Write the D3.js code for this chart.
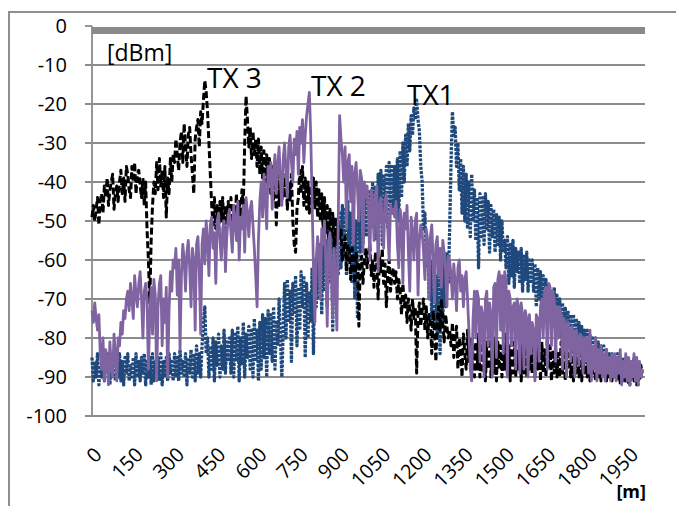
<!DOCTYPE html>
<html>
<head>
<meta charset="utf-8">
<script src="https://cdn.jsdelivr.net/npm/d3@7"></script>
<style>
  body { margin: 0; background: #fff; }
  svg text { font-family: "Open Sans", "Liberation Sans", sans-serif; fill: #000; }
</style>
</head>
<body>
<div id="chart"></div>
<script>
// received power along the track, one value every 5 m from 0 to 2000 m
var step = 5;

var tx1 = [
  -85,-91,-86,-90,-84,-92,-87,-90,-85,-91,-86,-89,-84,-92,-86,-90,-85,-91,-87,-90,
  -84,-91,-86,-92,-85,-89,-84,-91,-87,-90,-85,-92,-84,-90,-86,-91,-85,-89,-84,-92,
  -86,-90,-85,-92,-84,-91,-86,-89,-85,-91,-84,-92,-86,-90,-85,-91,-84,-89,-86,-91,
  -84,-90,-85,-91,-83,-89,-86,-90,-84,-92,-85,-89,-83,-90,-84,-91,-82,-89,-84,-90,
  -82,-76,-72,-84,-80,-90,-82,-88,-80,-91,-81,-87,-79,-90,-82,-88,-78,-89,-81,-86,
  -80,-89,-78,-90,-79,-86,-77,-91,-80,-87,-76,-90,-79,-85,-77,-88,-78,-90,-75,-86,
  -78,-91,-76,-88,-74,-85,-75,-90,-73,-84,-74,-86,-72,-88,-76,-82,-70,-80,-90,-78,
  -66,-80,-65,-76,-68,-86,-66,-74,-64,-82,-67,-78,-63,-72,-64,-85,-66,-80,-68,-76,
  -62,-84,-60,-72,-58,-70,-56,-74,-54,-68,-55,-72,-52,-66,-53,-78,-54,-70,-52,-64,
  -48,-62,-46,-58,-47,-64,-45,-60,-48,-66,-47,-70,-50,-75,-46,-58,-45,-56,-44,-54,
  -44,-54,-42,-52,-40,-50,-41,-55,-38,-48,-37,-56,-38,-50,-36,-52,-35,-46,-36,-48,
  -36,-46,-34,-50,-32,-44,-30,-40,-28,-36,-25,-32,-23,-28,-21,-24,-19,-24,-27,-36,
  -40,-52,-48,-62,-56,-70,-60,-75,-62,-78,-64,-80,-62,-84,-65,-76,-60,-72,-58,-66,
  -52,-35,-22,-28,-26,-36,-30,-42,-34,-48,-36,-50,-38,-52,-40,-54,-38,-50,-42,-55,
  -44,-62,-43,-54,-44,-56,-43,-52,-45,-58,-46,-54,-47,-58,-48,-56,-49,-60,-50,-58,
  -55,-62,-54,-66,-56,-64,-55,-67,-57,-63,-58,-66,-57,-68,-59,-65,-58,-68,-60,-66,
  -60,-68,-61,-72,-62,-70,-63,-75,-64,-72,-65,-78,-66,-74,-68,-77,-67,-76,-69,-78,
  -70,-80,-71,-78,-72,-82,-73,-80,-74,-84,-74,-80,-75,-83,-76,-82,-77,-85,-78,-83,
  -78,-86,-79,-88,-80,-85,-80,-90,-81,-87,-82,-89,-82,-88,-83,-90,-84,-88,-84,-90,
  -85,-90,-84,-91,-86,-89,-85,-91,-86,-90,-85,-92,-86,-90,-85,-91,-86,-92,-87,-90,-88
];

var tx2 = [
  -73,-76,-71,-75,-78,-74,-84,-88,-80,-91,-83,-86,-92,-81,-87,-90,-79,-84,-91,-80,
  -82,-76,-79,-73,-75,-70,-68,-73,-66,-70,-75,-64,-69,-72,-66,-63,-70,-80,-68,-66,
  -70,-88,-74,-67,-79,-65,-69,-91,-72,-66,-64,-82,-70,-76,-67,-90,-73,-63,-68,-60,
  -62,-57,-69,-60,-83,-64,-56,-60,-68,-58,-55,-62,-72,-57,-60,-78,-56,-54,-63,-79,
  -56,-52,-61,-50,-55,-64,-51,-49,-57,-53,-66,-50,-48,-55,-60,-52,-50,-63,-54,-49,
  -47,-53,-58,-46,-50,-55,-45,-60,-49,-52,-46,-58,-44,-48,-54,-47,-45,-51,-57,-64,
  -72,-55,-45,-40,-49,-38,-44,-52,-36,-41,-35,-47,-38,-33,-43,-36,-31,-40,-46,-34,
  -30,-37,-44,-31,-28,-35,-40,-29,-33,-27,-38,-26,-30,-24,-35,-28,-23,-20,-17,-28,
  -45,-62,-76,-60,-54,-58,-70,-52,-56,-50,-61,-77,-55,-53,-64,-75,-57,-66,-78,-50,
  -23,-29,-33,-40,-31,-52,-35,-33,-45,-36,-56,-38,-35,-42,-50,-37,-39,-58,-40,-44,
  -41,-48,-60,-42,-45,-55,-43,-41,-63,-46,-44,-50,-57,-45,-43,-52,-60,-46,-48,-47,
  -49,-45,-56,-62,-47,-50,-66,-48,-52,-46,-58,-68,-49,-53,-60,-50,-48,-69,-55,-51,
  -53,-58,-65,-52,-55,-70,-54,-51,-60,-71,-56,-54,-64,-57,-67,-55,-58,-62,-72,-59,
  -60,-64,-70,-61,-66,-73,-62,-60,-68,-64,-72,-65,-63,-70,-78,-88,-91,-75,-68,-80,
  -68,-70,-86,-72,-74,-90,-70,-68,-82,-71,-74,-90,-67,-66,-85,-65,-63,-78,-64,-84,
  -63,-65,-90,-68,-70,-82,-72,-71,-88,-70,-72,-89,-71,-74,-88,-73,-75,-90,-74,-84,
  -76,-78,-91,-74,-75,-86,-72,-70,-80,-68,-67,-88,-66,-67,-82,-68,-70,-86,-72,-80,
  -72,-74,-88,-75,-77,-90,-76,-78,-86,-77,-79,-90,-78,-80,-87,-79,-80,-89,-80,-86,
  -80,-89,-78,-91,-82,-88,-80,-91,-83,-89,-82,-90,-84,-91,-83,-89,-85,-91,-84,-90,
  -84,-91,-85,-89,-83,-92,-86,-90,-84,-91,-85,-92,-86,-90,-84,-91,-85,-92,-86,-90,-88
];

var tx3 = [
  -49,-46,-50,-47,-44,-51,-45,-43,-48,-41,-44,-39,-46,-42,-40,-38,-47,-43,-41,-45,
  -40,-37,-43,-39,-45,-36,-38,-42,-44,-36,-40,-35,-43,-38,-37,-41,-44,-39,-46,-40,
  -52,-60,-71,-55,-46,-40,-43,-35,-42,-34,-41,-37,-44,-36,-49,-39,-43,-34,-40,-33,
  -35,-29,-33,-37,-30,-27,-35,-25,-31,-36,-28,-26,-33,-38,-43,-29,-26,-24,-31,-22,
  -25,-19,-14,-17,-22,-30,-38,-46,-51,-44,-52,-46,-54,-45,-50,-44,-53,-46,-51,-45,
  -50,-44,-53,-46,-50,-43,-52,-45,-49,-42,-46,-30,-18,-24,-31,-26,-34,-27,-33,-29,
  -36,-29,-38,-31,-39,-32,-40,-33,-41,-34,-43,-36,-45,-37,-51,-38,-46,-40,-45,-38,
  -44,-39,-47,-40,-45,-38,-50,-56,-58,-47,-44,-37,-43,-36,-46,-39,-47,-40,-48,-41,
  -46,-39,-47,-40,-49,-42,-50,-43,-52,-44,-53,-46,-55,-47,-54,-48,-57,-49,-56,-50,
  -55,-52,-60,-57,-54,-63,-56,-58,-65,-57,-60,-66,-58,-62,-77,-61,-59,-66,-60,-57,
  -62,-58,-56,-64,-60,-67,-58,-61,-70,-59,-63,-57,-66,-61,-72,-63,-60,-68,-64,-62,
  -66,-63,-70,-65,-68,-74,-66,-72,-69,-76,-70,-73,-78,-70,-75,-72,-89,-74,-71,-77,
  -73,-70,-78,-72,-80,-74,-76,-84,-73,-79,-86,-75,-72,-78,-70,-76,-81,-74,-77,-80,
  -78,-82,-76,-85,-80,-77,-88,-80,-83,-90,-79,-84,-88,-78,-86,-80,-89,-82,-90,-81,
  -88,-79,-90,-80,-89,-78,-91,-81,-88,-79,-90,-82,-89,-80,-91,-81,-88,-82,-90,-83,
  -88,-79,-90,-82,-91,-80,-89,-81,-90,-83,-88,-80,-91,-82,-89,-81,-90,-83,-88,-82,
  -89,-80,-90,-82,-88,-79,-91,-81,-89,-83,-90,-80,-88,-82,-91,-83,-89,-82,-90,-84,
  -90,-81,-89,-83,-91,-82,-88,-84,-90,-83,-91,-84,-89,-82,-90,-84,-91,-85,-89,-83,
  -90,-84,-91,-85,-89,-84,-91,-86,-90,-85,-91,-84,-90,-86,-91,-85,-90,-86,-91,-85,
  -90,-86,-91,-85,-92,-86,-90,-87,-91,-86,-92,-87,-90,-86,-91,-87,-92,-88,-91,-87,-89
];

var xTicks = [0, 150, 300, 450, 600, 750, 900, 1050, 1200, 1350, 1500, 1650, 1800, 1950];
var yTicks = [0, -10, -20, -30, -40, -50, -60, -70, -80, -90, -100];

// peak annotations: [text, distance of text start, level of text baseline]
var peakLabels = [["TX 3", 418, -15.9], ["TX 2", 796, -17.9], ["TX1", 1145, -20.3]];

var width = 676, height = 506;
var margin = {top: 26, right: 31, bottom: 90, left: 92};
var gray = "#8c8c8c";

var svg = d3.select("#chart").append("svg")
  .attr("width", width).attr("height", height);

var x = d3.scaleLinear().domain([0, 2010]).range([margin.left, width - margin.right]);
var y = d3.scaleLinear().domain([0, -100]).range([margin.top, height - margin.bottom]);

// outer frame (left and top edges only visible)
svg.append("path")
  .attr("d", "M9," + height + " V12 H" + width)
  .attr("fill", "none").attr("stroke", "#8f8f8f").attr("stroke-width", 2);

// gridlines + tick marks
svg.append("g").selectAll("line")
  .data(yTicks.filter(d => d !== 0))
  .enter().append("line")
  .attr("x1", margin.left - 7).attr("x2", x(2010))
  .attr("y1", d => y(d)).attr("y2", d => y(d))
  .attr("stroke", gray).attr("stroke-width", 1.8);

svg.append("line")
  .attr("x1", margin.left - 7).attr("x2", margin.left)
  .attr("y1", y(0)).attr("y2", y(0))
  .attr("stroke", gray).attr("stroke-width", 1.8);

// heavy bar along the 0 dBm line
svg.append("rect")
  .attr("x", margin.left).attr("y", y(0) + 1)
  .attr("width", x(2010) - margin.left).attr("height", 7)
  .attr("fill", "#8a8a8a");

// y axis line
svg.append("line")
  .attr("x1", margin.left).attr("x2", margin.left)
  .attr("y1", y(0)).attr("y2", y(-100))
  .attr("stroke", gray).attr("stroke-width", 1.8);

// y tick labels
svg.append("g").selectAll("text")
  .data(yTicks)
  .enter().append("text")
  .attr("x", 67).attr("y", d => y(d))
  .attr("dy", "0.35em")
  .attr("text-anchor", "end")
  .style("font-size", "20px")
  .text(d => d);

// x tick labels, rotated
svg.append("g").selectAll("text")
  .data(xTicks)
  .enter().append("text")
  .attr("transform", d => "translate(" + (x(d) + 11) + ",456) rotate(-45)")
  .attr("text-anchor", "end")
  .style("font-size", "20px")
  .text(d => d);

// series
var line = d3.line()
  .x((d, i) => x(i * step))
  .y(d => y(d));

var series = [
  {values: tx1, color: "#1f497d", dash: "3,1.3", w: 3.3},
  {values: tx3, color: "#000000", dash: "7,3", w: 3},
  {values: tx2, color: "#8064a2", dash: null, w: 2.8}
];

svg.append("g").selectAll("path")
  .data(series)
  .enter().append("path")
  .attr("d", d => line(d.values))
  .attr("fill", "none")
  .attr("stroke", d => d.color)
  .attr("stroke-width", d => d.w)
  .attr("stroke-linejoin", "round")
  .attr("stroke-dasharray", d => d.dash);

// peak labels
svg.append("g").selectAll("text")
  .data(peakLabels)
  .enter().append("text")
  .attr("x", d => x(d[1]))
  .attr("y", d => y(d[2]))
  .style("font-size", "28px")
  .text(d => d[0]);

// unit labels
svg.append("text")
  .attr("x", 107).attr("y", 61)
  .style("font-size", "23px")
  .text("[dBm]");

svg.append("text")
  .attr("x", 646).attr("y", 498)
  .attr("text-anchor", "end")
  .style("font-size", "18px").style("font-weight", "bold")
  .text("[m]");
</script>
</body>
</html>
